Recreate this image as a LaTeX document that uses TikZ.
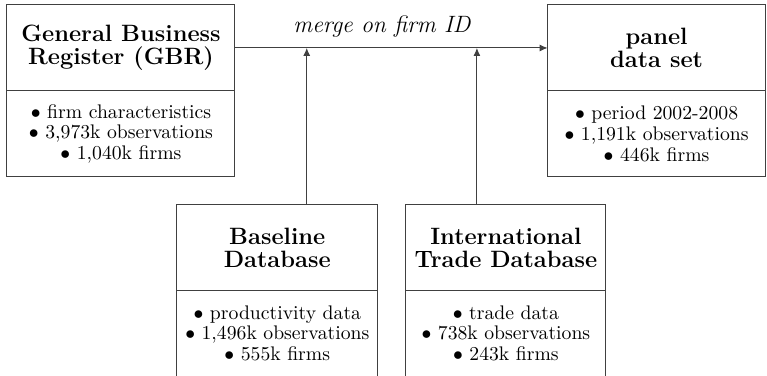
\documentclass[tikz,border=0pt]{standalone}
\usetikzlibrary{positioning}
\usetikzlibrary{arrows.meta}

\tikzset{
    head/.style = {draw, align=center, inner sep=0pt, outer sep=0pt,
        minimum height=1.534cm,
        font=\fontsize{12}{11.7}\selectfont\bfseries},
    facts/.style = {draw, align=center, inner sep=0pt, outer sep=0pt,
        minimum height=1.534cm,
        font=\fontsize{10}{10.6}\selectfont},
}

\begin{document}
\begin{tikzpicture}[draw=black!75, text=black, line width=0.5pt,
        >={Latex[length=4pt, width=3.5pt]}]
    \useasboundingbox (0,0) rectangle (13.69,-6.71);

    %\draw[help lines, opacity = 0.1] (0,-7) grid (14,0);

    % sources and result
    \node (gbr) at (2.159,-0.856) [head, minimum width=4.07cm] {General Business\\Register (GBR)};
    \node (gbrfacts) [facts, minimum width=4.07cm, below=0pt of gbr]
        {$\bullet$ firm characteristics\\$\bullet$ 3,973k observations\\$\bullet$ 1,040k firms};

    \node (panel) [head, minimum width=3.89cm, on grid, right=9.56cm of gbr] {panel\\data set};
    \node (panelfacts) [facts, minimum width=3.89cm, below=0pt of panel]
        {$\bullet$ period 2002-2008\\$\bullet$ 1,191k observations\\$\bullet$ 446k firms};

    \node (base) [head, minimum width=3.59cm, on grid, below right=3.56cm and 2.79cm of gbr] {Baseline\\Database};
    \node (basefacts) [facts, minimum width=3.59cm, below=0pt of base]
        {$\bullet$ productivity data\\$\bullet$ 1,496k observations\\$\bullet$ 555k firms};

    \node (itd) [head, minimum width=3.57cm, on grid, right=4.08cm of base] {International\\Trade Database};
    \node (itdfacts) [facts, minimum width=3.57cm, below=0pt of itd]
        {$\bullet$ trade data\\$\bullet$ 738k observations\\$\bullet$ 243k firms};

    % merging
    \draw[->] (gbr) -- node (mergelabel) [pos=0.47, above=2pt, font=\large\itshape] {merge on firm ID} (panel);

    \coordinate (basejoin) at ([xshift=0.526cm]base.north);
    \coordinate (itdjoin) at ([xshift=-0.517cm]itd.north);
    \draw[->] (basejoin) -- (basejoin |- gbr.east);
    \draw[->] (itdjoin) -- (itdjoin |- gbr.east);

\end{tikzpicture}
\end{document}
